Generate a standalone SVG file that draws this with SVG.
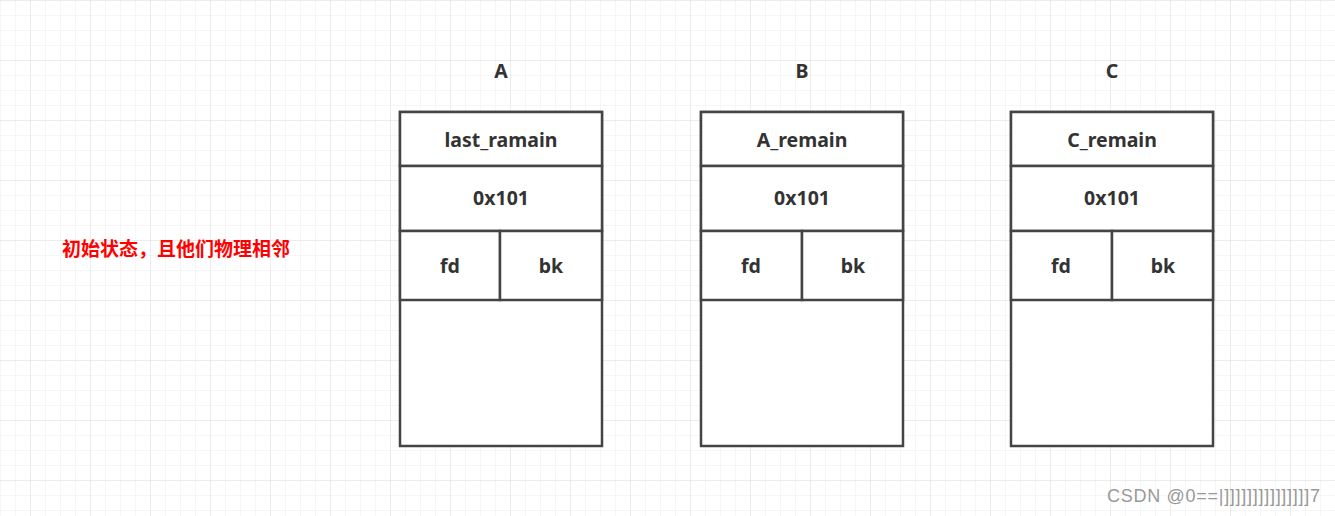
<svg xmlns="http://www.w3.org/2000/svg" width="1335" height="516" viewBox="0 0 1335 516">
<defs>
<pattern id="minor" width="15" height="15" patternUnits="userSpaceOnUse">
<path d="M15 0 L0 0 0 15" fill="none" stroke="#eeeeee" stroke-width="1"/>
</pattern>
<pattern id="major" x="30" y="0" width="60" height="60" patternUnits="userSpaceOnUse">
<rect width="60" height="60" fill="url(#minor)"/>
<path d="M60 0 L0 0 0 60" fill="none" stroke="#e0e0e0" stroke-width="1"/>
</pattern>
</defs>
<style>
.cell{fill:#ffffff;stroke:#444444;stroke-width:2.5}
.t{font-family:"Noto Sans","Noto Sans CJK SC",sans-serif;font-weight:bold;font-size:19.5px;fill:#333333;text-anchor:middle;dominant-baseline:central}
.note{font-family:"Noto Sans CJK SC",sans-serif;font-weight:bold;font-size:19px;fill:#ff0000;text-anchor:middle;dominant-baseline:central}
.wm{font-family:"Liberation Sans",sans-serif;font-size:18px;fill:#999999}
</style>
<rect width="1335" height="516" fill="#ffffff"/>
<rect width="1335" height="516" fill="url(#major)"/>
<g id="label-A"><text class="t" x="501" y="70">A</text></g>
<g id="label-B"><text class="t" x="802" y="70">B</text></g>
<g id="label-C"><text class="t" x="1112" y="70">C</text></g>
<g id="chunk-A">
<rect class="cell" x="400" y="112" width="202" height="334"/>
<rect class="cell" x="400" y="112" width="202" height="54"/>
<rect class="cell" x="400" y="166" width="202" height="65"/>
<rect class="cell" x="400" y="231" width="100" height="69"/>
<rect class="cell" x="500" y="231" width="102" height="69"/>
<text class="t" x="501" y="139">last_ramain</text>
<text class="t" x="501" y="197">0x101</text>
<text class="t" x="450" y="265">fd</text>
<text class="t" x="551" y="265">bk</text>
</g>
<g id="chunk-B">
<rect class="cell" x="701" y="112" width="202" height="334"/>
<rect class="cell" x="701" y="112" width="202" height="54"/>
<rect class="cell" x="701" y="166" width="202" height="65"/>
<rect class="cell" x="701" y="231" width="101" height="69"/>
<rect class="cell" x="802" y="231" width="101" height="69"/>
<text class="t" x="802" y="139">A_remain</text>
<text class="t" x="802" y="197">0x101</text>
<text class="t" x="751" y="265">fd</text>
<text class="t" x="853" y="265">bk</text>
</g>
<g id="chunk-C">
<rect class="cell" x="1011" y="112" width="202" height="334"/>
<rect class="cell" x="1011" y="112" width="202" height="54"/>
<rect class="cell" x="1011" y="166" width="202" height="65"/>
<rect class="cell" x="1011" y="231" width="101" height="69"/>
<rect class="cell" x="1112" y="231" width="101" height="69"/>
<text class="t" x="1112" y="139">C_remain</text>
<text class="t" x="1112" y="197">0x101</text>
<text class="t" x="1061" y="265">fd</text>
<text class="t" x="1163" y="265">bk</text>
</g>
<g id="note"><text class="note" x="176" y="247">初始状态，且他们物理相邻</text></g>
<g id="connectors"></g>
<text class="wm" x="1107" y="502" textLength="213" lengthAdjust="spacing">CSDN @0==|]]]]]]]]]]]]]]]7</text>
</svg>
